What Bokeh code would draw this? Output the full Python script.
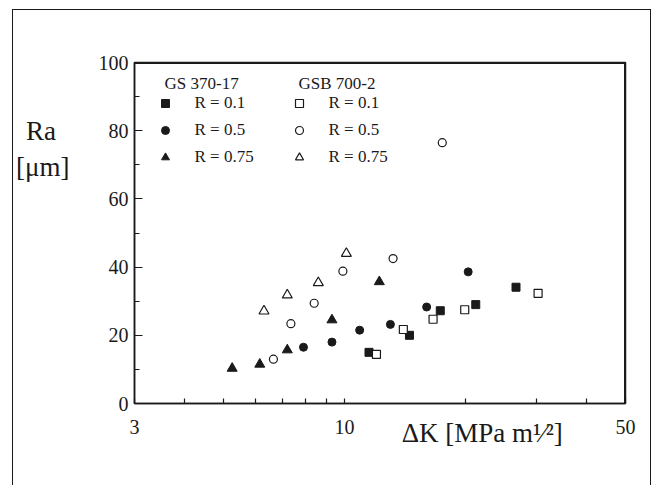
from bokeh.plotting import figure
from bokeh.models import (Range1d, FixedTicker, Label, Legend, LegendItem,
                          BasicTickFormatter, LinearAxis, LogAxis, Span)
from bokeh.embed import file_html
from bokeh.resources import INLINE

INK = "#1a1a1a"
FONT = "Liberation Serif"
NBSP = "\u00a0"

# ---- data (ΔK in MPa m^1/2, Ra in µm) ----
# GS 370-17 (filled markers)
gs_r01_dk = [11.5, 14.5, 17.3, 21.2, 26.7]
gs_r01_ra = [15.0, 20.0, 27.2, 29.0, 34.1]
gs_r05_dk = [7.9, 9.3, 10.9, 13.0, 16.0, 20.3]
gs_r05_ra = [16.5, 18.0, 21.5, 23.2, 28.3, 38.6]
gs_r075_dk = [5.25, 6.15, 7.2, 9.3, 12.2]
gs_r075_ra = [10.3, 11.5, 15.7, 24.5, 35.7]
# GSB 700-2 (open markers)
gsb_r01_dk = [12.0, 14.0, 16.6, 19.9, 30.3]
gsb_r01_ra = [14.4, 21.7, 24.7, 27.5, 32.3]
gsb_r05_dk = [6.65, 7.35, 8.4, 9.9, 13.2, 17.5]
gsb_r05_ra = [13.0, 23.4, 29.4, 38.8, 42.5, 76.5]
gsb_r075_dk = [6.3, 7.2, 8.6, 10.1]
gsb_r075_ra = [27.1, 31.8, 35.4, 44.0]

x_major = [3, 10, 50]
x_minor = [4, 5, 6, 7, 8, 9, 20, 30, 40]
y_major = [0, 20, 40, 60, 80, 100]
y_minor = [10, 30, 50, 70, 90]
x_title = "\u0394K [MPa m\u00b9\u2044\u00b2]"
y_title = ["Ra", "[\u03bcm]"]

x_lo, x_hi = 3, 50
y_lo, y_hi = 0, 100

p = figure(width=639, height=476, x_axis_type="log",
           x_range=Range1d(x_lo, x_hi), y_range=Range1d(y_lo, y_hi),
           output_backend="svg", toolbar_location=None,
           min_border_left=120, min_border_right=27,
           min_border_top=52, min_border_bottom=83,
           styles={"margin-left": "12px", "margin-top": "9px",
                   "border-left": "1px solid #1a1a1a",
                   "border-right": "1px solid #1a1a1a",
                   "border-top": "1px solid #1a1a1a"})
p.background_fill_color = "white"
p.border_fill_color = "white"
p.outline_line_color = INK
p.outline_line_width = 1.5
p.xgrid.visible = False
p.ygrid.visible = False

p.xaxis.ticker = FixedTicker(ticks=x_major, minor_ticks=x_minor)
p.xaxis.formatter = BasicTickFormatter()
p.yaxis.ticker = FixedTicker(ticks=y_major, minor_ticks=y_minor)
for ax in (p.xaxis[0], p.yaxis[0]):
    ax.axis_line_color = INK
    ax.axis_line_width = 1.5
    ax.major_tick_line_color = INK
    ax.minor_tick_line_color = INK
    ax.major_tick_line_width = 1.2
    ax.minor_tick_line_width = 1.2
    ax.major_tick_out = 0
    ax.minor_tick_out = 0
    ax.major_label_text_font = FONT
    ax.major_label_text_font_size = "20px"
    ax.major_label_text_color = INK
p.xaxis.major_tick_in = 5
p.xaxis.minor_tick_in = 5
p.yaxis.major_tick_in = 8
p.yaxis.minor_tick_in = 5
p.xaxis.major_label_standoff = 16
p.yaxis.major_label_standoff = 6


def bare(axis, standoff, size):
    axis.axis_line_color = None
    axis.major_tick_line_color = None
    axis.minor_tick_line_color = None
    axis.major_tick_out = 0
    axis.major_tick_in = 0
    axis.minor_tick_out = 0
    axis.minor_tick_in = 0
    axis.major_label_standoff = standoff
    axis.major_label_text_font = FONT
    axis.major_label_text_font_size = size
    axis.major_label_text_color = INK
    return axis


# y-axis title: an extra axis whose two tick labels are the title lines
ya = bare(LinearAxis(ticker=FixedTicker(ticks=[80.0, 69.3]),
                     major_label_overrides={80.0: y_title[0] + NBSP * 2,
                                            69.3: y_title[1]}), 26, "27px")
p.add_layout(ya, "left")

# x-axis title: an extra axis below, its single label centred under the text spot
xt = bare(LogAxis(ticker=FixedTicker(ticks=[22.0]),
                  major_label_overrides={22.0: x_title}), -19, "27px")
p.add_layout(xt, "below")

# top and right sides of the frame box
p.add_layout(Span(location=y_hi, dimension="width", line_color=INK, line_width=3))
p.add_layout(Span(location=x_hi, dimension="height", line_color=INK, line_width=3))

r1 = p.scatter(gs_r01_dk, gs_r01_ra, marker="square", size=8,
               fill_color=INK, line_color=INK)
r2 = p.scatter(gs_r05_dk, gs_r05_ra, marker="circle", size=8,
               fill_color=INK, line_color=INK)
r3 = p.scatter(gs_r075_dk, gs_r075_ra, marker="triangle", size=10,
               fill_color=INK, line_color=INK)
r4 = p.scatter(gsb_r01_dk, gsb_r01_ra, marker="square", size=8,
               fill_color="white", line_color=INK, line_width=1.2)
r5 = p.scatter(gsb_r05_dk, gsb_r05_ra, marker="circle", size=8,
               fill_color="white", line_color=INK, line_width=1.2)
r6 = p.scatter(gsb_r075_dk, gsb_r075_ra, marker="triangle", size=10,
               fill_color="white", line_color=INK, line_width=1.2)

legend = Legend(items=[
    LegendItem(label="R = 0.1", renderers=[r1]),
    LegendItem(label="R = 0.5", renderers=[r2]),
    LegendItem(label="R = 0.75", renderers=[r3]),
    LegendItem(label="R = 0.1", renderers=[r4]),
    LegendItem(label="R = 0.5", renderers=[r5]),
    LegendItem(label="R = 0.75", renderers=[r6]),
], ncols=2, location=(20.5, 236.5),
    glyph_width=20, glyph_height=20, label_standoff=20,
    label_width=87, label_height=20, spacing=7, padding=0, margin=0,
    border_line_alpha=0, background_fill_alpha=0,
    label_text_font=FONT, label_text_font_size="17px",
    label_text_color=INK)
p.add_layout(legend)

for txt, lx in (("GS 370-17", 30), ("GSB 700-2", 164)):
    p.add_layout(Label(text=txt, x=lx, y=320, x_units="screen", y_units="screen",
                       text_font=FONT, text_font_size="17px", text_color=INK,
                       text_baseline="alphabetic"))

open("out.html", "w").write(file_html(p, INLINE))
